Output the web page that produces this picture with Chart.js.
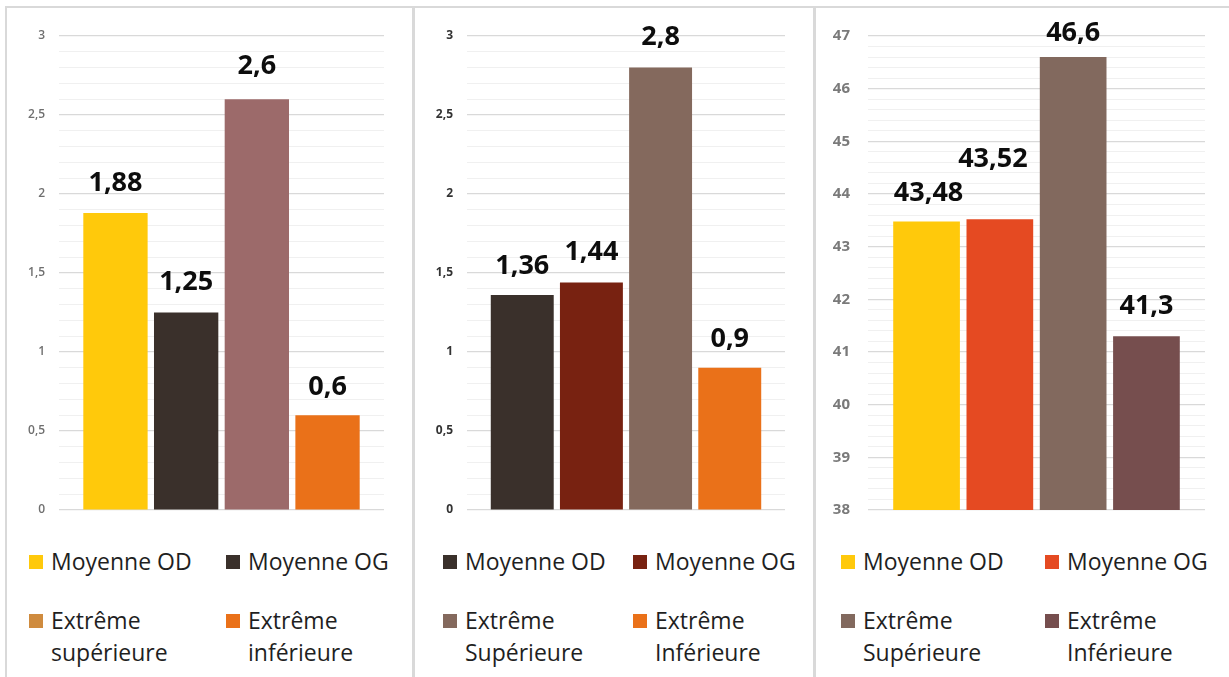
<!DOCTYPE html>
<html>
<head>
<meta charset="utf-8">
<script src="https://cdn.jsdelivr.net/npm/chart.js@4.4.1/dist/chart.umd.min.js"></script>
<style>
  html, body { margin: 0; padding: 0; background: #fff; width: 1229px; height: 677px; overflow: hidden; font-family: "Open Sans", sans-serif; }
  .rule { position: absolute; background: #d9d9d9; }
  canvas { position: absolute; }
  .leg { position: absolute; font-size: 23px; line-height: 32px; color: #1f1f1f; white-space: nowrap; }
  .leg i { position: absolute; left: 0; top: 10px; width: 14px; height: 14px; }
  .leg span { position: absolute; left: 22px; top: 0; }
</style>
</head>
<body>
<div class="rule" style="left:5px;top:6px;width:1224px;height:2px"></div>
<div class="rule" style="left:5px;top:6px;width:2px;height:671px"></div>
<div class="rule" style="left:412px;top:6px;width:3px;height:671px"></div>
<div class="rule" style="left:813px;top:6px;width:3px;height:671px"></div>

<canvas id="c1" width="404" height="521" style="left:8px;top:9px"></canvas>
<canvas id="c2" width="396" height="521" style="left:416px;top:9px"></canvas>
<canvas id="c3" width="412" height="521" style="left:817px;top:9px"></canvas>
<div id="legends"></div>

<script>
// ---- Panel 1 ----
const names1 = ['Moyenne OD', 'Moyenne OG', ['Extrême', 'supérieure'], ['Extrême', 'inférieure']];
const values1 = [1.88, 1.25, 2.6, 0.6];
const colors1 = ['#FFC90B', '#3A302B', '#9C6A6A', '#EA7119'];
const legendColors1 = ['#FFC90B', '#3A302B', '#CF8B3E', '#EA7119'];
const majorTicks1 = [0, 0.5, 1, 1.5, 2, 2.5, 3];
const minorStep1 = 0.1;

// ---- Panel 2 ----
const names2 = ['Moyenne OD', 'Moyenne OG', ['Extrême', 'Supérieure'], ['Extrême', 'Inférieure']];
const values2 = [1.36, 1.44, 2.8, 0.9];
const colors2 = ['#3A302B', '#782211', '#84695D', '#EA7119'];
const majorTicks2 = [0, 0.5, 1, 1.5, 2, 2.5, 3];
const minorStep2 = 0.1;

// ---- Panel 3 ----
const names3 = ['Moyenne OD', 'Moyenne OG', ['Extrême', 'Supérieure'], ['Extrême', 'Inférieure']];
const values3 = [43.48, 43.52, 46.6, 41.3];
const colors3 = ['#FFC90B', '#E54A22', '#82695E', '#764E4E'];
const majorTicks3 = [38, 39, 40, 41, 42, 43, 44, 45, 46, 47];
const minorStep3 = 0.2;

const fmt = v => String(v).replace('.', ',');

// Value captions above each bar
const valueLabels = {
  id: 'valueLabels',
  afterDatasetsDraw(chart, args, opts) {
    const ctx = chart.ctx;
    ctx.save();
    ctx.font = 'bold 27px "Open Sans"';
    ctx.fillStyle = '#0d0d0d';
    ctx.textAlign = 'center';
    ctx.textBaseline = 'middle';
    chart.data.datasets.forEach((ds, i) => {
      const meta = chart.getDatasetMeta(i);
      meta.data.forEach((bar, j) => {
        const dx = opts.shiftX ? opts.shiftX[i] : 0;
        ctx.fillText(fmt(ds.data[j]), bar.x + dx, bar.y - opts.lift[i]);
      });
    });
    ctx.restore();
  }
};

function makeChart(id, cfg) {
  const majors = cfg.majors;
  const lo = majors[0], hi = majors[majors.length - 1];
  const isMajor = v => majors.some(m => Math.abs(m - v) < 1e-6);
  const datasets = cfg.values.map((v, i) => ({
    label: cfg.names[i],
    data: [v],
    backgroundColor: cfg.colors[i],
    borderWidth: 0,
    categoryPercentage: 0.87,
    barPercentage: 0.91
  }));
  return new Chart(document.getElementById(id), {
    type: 'bar',
    data: { labels: [''], datasets },
    plugins: [valueLabels],
    options: {
      responsive: false,
      animation: false,
      layout: { padding: { top: 27, bottom: 20, left: 0, right: cfg.padRight } },
      plugins: {
        legend: { display: false },
        tooltip: { enabled: false },
        valueLabels: { lift: cfg.lift, shiftX: cfg.shiftX }
      },
      scales: {
        x: { display: false },
        y: {
          min: lo,
          max: hi,
          border: { display: false },
          afterFit(scale) {
            scale.width = 51;
            scale.paddingTop = 0;
            scale.paddingBottom = 0;
          },
          afterBuildTicks(scale) {
            const n = Math.round((hi - lo) / cfg.minor);
            const t = [];
            for (let k = 0; k <= n; k++) t.push({ value: +(lo + k * cfg.minor).toFixed(4) });
            scale.ticks = t;
          },
          grid: {
            drawTicks: false,
            color: c => isMajor(c.tick.value) ? '#d9d9d9' : '#f0f0f0',
            lineWidth: c => isMajor(c.tick.value) ? 1.2 : 1
          },
          ticks: {
            autoSkip: false,
            padding: cfg.tickPad,
            color: cfg.tickColor,
            font: cfg.tickFont,
            callback: v => isMajor(v) ? fmt(+v.toFixed(2)) : ''
          }
        }
      }
    }
  });
}

const panels = [
  { id: 'c1', names: names1, values: values1, colors: colors1, legendColors: legendColors1,
    majors: majorTicks1, minor: minorStep1, padRight: 28, tickPad: 14,
    tickColor: '#6f6f6f', tickFont: { family: 'Open Sans', size: 12, weight: '600' },
    lift: [30, 30, 33, 28], legendX: 29, colW: 197 },
  { id: 'c2', names: names2, values: values2, colors: colors2, legendColors: colors2,
    majors: majorTicks2, minor: minorStep2, padRight: 27, tickPad: 14,
    tickColor: '#333333', tickFont: { family: 'Open Sans', size: 12, weight: 'bold' },
    lift: [29, 30, 30, 28], legendX: 443, colW: 190 },
  { id: 'c3', names: names3, values: values3, colors: colors3, legendColors: colors3,
    majors: majorTicks3, minor: minorStep3, padRight: 24, tickPad: 18,
    tickColor: '#7a7a7a', tickFont: { family: 'Open Sans', size: 15, weight: 'bold' },
    lift: [28, 60, 24, 30], shiftX: [2, -7, 0, 0], legendX: 841, colW: 204 }
];

const legendBox = document.getElementById('legends');
const rowTops = [545, 604];

panels.forEach(p => {
  const chart = makeChart(p.id, p);
  // two-column legend built from the chart's datasets
  chart.data.datasets.forEach((ds, i) => {
    const item = document.createElement('div');
    item.className = 'leg';
    item.style.left = (p.legendX + (i % 2) * p.colW) + 'px';
    item.style.top = rowTops[Math.floor(i / 2)] + 'px';
    const sw = document.createElement('i');
    sw.style.background = p.legendColors[i];
    const tx = document.createElement('span');
    const lines = Array.isArray(ds.label) ? ds.label : [ds.label];
    lines.forEach((ln, k) => {
      if (k) tx.appendChild(document.createElement('br'));
      tx.appendChild(document.createTextNode(ln));
    });
    item.appendChild(sw);
    item.appendChild(tx);
    legendBox.appendChild(item);
  });
});
</script>
</body>
</html>
